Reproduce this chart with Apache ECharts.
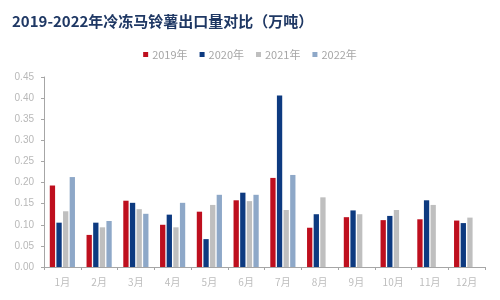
<!DOCTYPE html>
<html><head><meta charset="utf-8">
<script src="https://cdn.jsdelivr.net/npm/echarts@6/dist/echarts.min.js"></script>
<style>html,body{margin:0;padding:0;background:#fff}#c{width:500px;height:300px}</style>
</head><body><div id="c"></div>
<script>
const title = '2019-2022年冷冻马铃薯出口量对比（万吨）';
const months = ['1月','2月','3月','4月','5月','6月','7月','8月','9月','10月','11月','12月'];
const seriesNames = ['2019年','2020年','2021年','2022年'];
const y2019 = [0.193,0.076,0.157,0.100,0.131,0.158,0.211,0.093,0.118,0.111,0.113,0.110];
const y2020 = [0.105,0.105,0.152,0.124,0.066,0.176,0.406,0.125,0.134,0.121,0.158,0.104];
const y2021 = [0.132,0.094,0.137,0.094,0.147,0.156,0.135,0.165,0.125,0.135,0.147,0.117];
const y2022 = [0.213,0.109,0.126,0.152,0.171,0.171,0.218,null,null,null,null,null];
const yTicks = [0,0.05,0.10,0.15,0.20,0.25,0.30,0.35,0.40,0.45];
const colors = ['#be0f1e','#0d3a80','#bfbfbf','#8ea8c8'];

const chart = echarts.init(document.getElementById('c'), null, {renderer:'canvas'});
const data = [y2019,y2020,y2021,y2022];
chart.setOption({
  animation:false,
  color: colors,
  title:{text:title,left:7,top:9,textStyle:{fontFamily:'Noto Sans CJK SC',fontWeight:'bold',fontSize:15,color:'#1f3864'}},
  legend:{data:seriesNames,top:44,left:'center',itemWidth:5,itemHeight:5,itemGap:12,icon:'rect',
    textStyle:{color:'#a6a6a6',fontSize:11,fontFamily:'Noto Sans CJK SC',padding:[0,0,0,-1]}},
  grid:{left:44,right:15,top:77,bottom:33},
  xAxis:{type:'category',data:months,
    axisLine:{lineStyle:{color:'#a6a6a6'}},
    axisTick:{show:true,length:3,lineStyle:{color:'#a6a6a6'}},
    axisLabel:{color:'#bdbdbd',fontSize:10,fontFamily:'Noto Sans CJK SC',margin:10}},
  yAxis:{type:'value',min:yTicks[0],max:yTicks[yTicks.length-1],interval:0.05,
    axisLine:{show:true,lineStyle:{color:'#a6a6a6'}},
    axisTick:{show:true,length:3,inside:false,lineStyle:{color:'#a6a6a6'}},
    splitLine:{show:false},
    axisLabel:{color:'#b8b8b8',fontSize:10,fontFamily:'Liberation Sans',margin:10,formatter:v=>v.toFixed(2)}},
  series: seriesNames.map((n,i)=>({name:n,type:'bar',data:data[i],barWidth:5.3,barGap:'25%'}))
});
</script></body></html>
